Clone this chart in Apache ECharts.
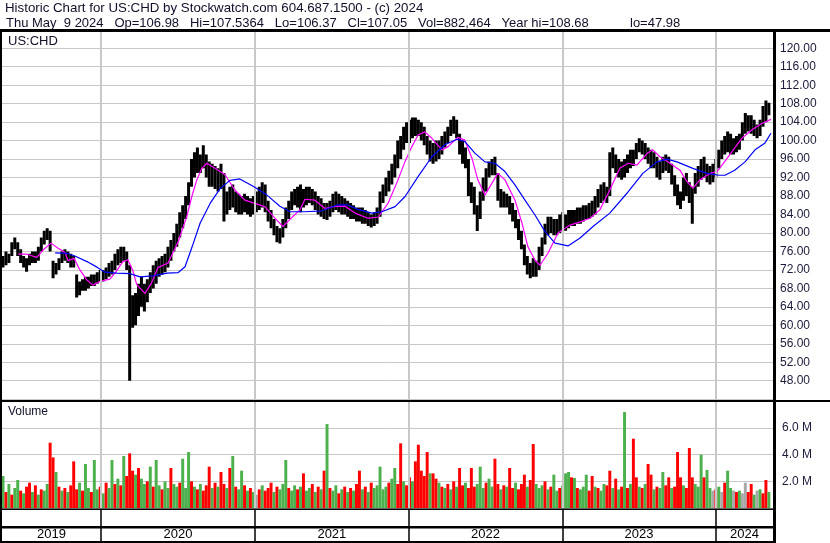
<!DOCTYPE html>
<html><head><meta charset="utf-8">
<script src="https://cdn.jsdelivr.net/npm/echarts@6/dist/echarts.min.js"></script>
<style>html,body{margin:0;padding:0;background:#fff}#c{width:830px;height:543px}</style>
</head><body><div id="c"></div>
<script>
// ---- data (weekly bars) ----
const headerLine1 = 'Historic Chart for US:CHD by Stockwatch.com 604.687.1500 - (c) 2024';
const headerLine2 = 'Thu May  9 2024   Op=106.98   Hi=107.5364   Lo=106.37   Cl=107.05   Vol=882,464   Year hi=108.68';
const headerLine2End = 'lo=47.98';
const symbolLabel = 'US:CHD';
const volumeLabel = 'Volume';
const yearLabels = ['2019','2020','2021','2022','2023','2024'];
const firstWeek = '2019-05-13';

const weekLow = [72.5,73,73.5,75,76.5,75,73.5,72.5,71.6,73,73.5,
73.5,74,76,77.5,78.5,76,70.2,71,72,73.5,
74,73.5,72.5,72.5,66,66.5,67.5,67.5,68,68.5,
68.5,69,69.5,69.5,70,70.5,71,72,73,73.5,
74,72,48,59.5,60,62,64,63,65,67,
68,69,70.5,71,71.5,72.5,74,76,77,79,
81,83,86,90,92,93,93,94,92,90,
90,89.5,89,89.5,82.5,84,85,85.5,84.5,84,
84,84.5,84,83.5,84,84.5,85,85.5,84.5,82.5,
81,79.5,78,77.7,79,81,83,85,86,85.5,
84.5,85.5,86,86.5,86,85,84,83.5,83,82.8,
83.5,84.5,85,84.5,84,84,83.5,83,83,82.5,
82.5,82,82,81.5,81.2,81.5,82,83.5,86.5,88,
89,90.5,92,94,96,98,99.5,99.5,100.5,101,
101,100,99,97,95.5,95,95.5,96,97,98.5,
99.5,101,101.5,100.5,97,95,94,88,86.5,84,
80.4,83,87,89,92,92.5,92.5,87,85.5,85.5,
85.5,84,82.5,81,78.5,76.5,73,71,70.2,70.5,
70.5,72,75,77.5,79.5,80,79.5,79.5,80,80.5,
80.5,81,81.5,81.5,82,82,82.5,83,83,83.5,
84,85.5,86.5,87,86.5,88,94,93,92,91.5,
92,93,94,94.5,96,97.5,97,96,95,94,
94,92,91.5,93,93.5,93,90.5,88,86,85.2,
87,88,86.5,82,88.5,90,91.5,92,91,90.5,
91,92,94,96,97,97.5,97,97,97.5,98,
100,101.5,102,101.5,101,100.5,101,103,104,105.5];

const weekHigh = [75,76,75.5,78,79,78,76.5,75,74.5,75.5,76,
76,77,79,80.5,81,80.5,74,73.5,74.5,76,
76.5,76,75.5,75,71,69.5,70,70.5,70.5,71,
71,71.5,72,72,72.5,73.5,74,75.5,76.5,77,
77,76,73,66.5,67,69,70.5,69,70,71.5,
73,74,74.5,75,75.5,77,78.5,80,82,84.5,
86,88,91,96,97.5,98.5,97,99,97,95.5,
95,94.5,94,95,93,89,90,90.5,89,88.5,
88,88.5,88,87.5,88,89,90,91,90.5,87,
85,83,81.5,81,83,85.5,87,89,89.5,90,
90.5,89.5,90,90,89.5,89,88,87.5,86.5,86.5,
87,88.5,89,88.5,88,87.5,87,86.5,86,85.5,
85.5,85.5,85,84.5,84,84.5,85.5,89,90.5,92,
93.5,95,97,100,101,103,104,104.5,105,105,
104.5,104,103,101,100,99.5,100,100,101,102,
103,104.5,105.3,104.5,101.5,100,98.5,96,91,90,
86,89,92,94,95.5,96,96.5,93,89.5,89,
88.5,88,86.5,85,83,80.5,77.5,75,73.5,74.5,
74,77,79,82,83.5,83.5,83,83,84,84.5,
84,85,85,85,85.5,85.5,86,86,86.5,87,
88,89.5,90.5,91,90,97.5,98.5,97,96,95.5,
96,97,98,98,99.5,100.5,100,99.5,98.5,98,
97.5,96.5,95.5,96.5,97,96.5,95,92.5,90.5,89,
92,93,91,90,93,94.5,96,96.5,95,94.5,
95,96,98,100,101,102,101.5,100.5,101,101.5,
104,106,105.5,105.5,104.5,103.5,104.5,107.5,108.7,108.2];

// volume in millions, one bar per week; g = up (green), r = down (red), n = unchanged (grey)
const weekVolume = [2.4,1.2,1.8,1.0,1.5,2.1,1.3,1.1,1.6,1.9,
1.2,1.7,1.0,1.4,1.3,1.8,4.9,3.8,2.7,1.6,
1.3,1.5,1.2,1.7,3.5,1.4,1.9,1.3,3.3,1.5,
1.2,3.6,1.4,1.6,1.1,1.9,1.5,3.6,1.8,2.2,
1.7,3.9,2.4,4.1,2.8,2.5,3.0,2.2,1.8,2.0,
3.1,1.6,3.6,1.7,1.4,2.0,1.5,3.0,1.8,1.6,
1.9,3.7,1.5,4.2,2.0,1.6,1.4,1.8,1.3,1.7,
3.1,1.5,1.9,1.6,2.7,1.8,1.5,3.0,3.9,1.6,
1.4,2.8,1.7,1.3,1.5,1.2,1.0,1.4,1.7,1.3,
1.5,1.9,1.2,1.6,1.4,1.8,3.6,1.5,1.3,1.7,
1.4,1.6,2.6,1.3,1.5,1.8,1.2,1.6,1.4,2.8,
6.3,1.5,1.3,1.7,1.1,1.4,1.6,1.2,1.5,1.3,
1.8,2.8,1.4,1.6,1.2,1.9,1.5,1.7,3.1,1.4,
1.6,1.9,2.2,3.0,1.8,4.85,2.0,1.7,2.3,2.0,
3.5,4.75,2.8,2.4,4.2,2.6,2.6,2.2,1.9,1.6,
1.5,1.8,1.4,2.0,1.6,3.0,1.7,1.9,1.5,3.0,
1.6,1.8,3.1,1.5,1.9,2.2,1.6,3.7,1.8,1.4,
1.7,1.6,3.0,1.5,1.9,1.4,1.8,2.5,1.6,2.1,
4.8,1.8,1.5,1.7,2.0,1.4,1.6,2.5,1.3,1.5,
1.7,2.6,2.7,2.3,2.25,1.5,1.4,1.6,2.5,1.3,
2.4,1.6,1.5,1.3,1.8,1.7,2.8,1.5,2.2,1.4,
1.6,7.2,1.5,1.8,5.2,2.3,1.6,1.5,1.8,3.3,
2.5,1.4,1.6,1.5,2.7,1.7,2.3,1.5,1.6,4.2,
2.3,1.7,1.5,4.5,2.3,1.8,1.6,4.0,2.3,2.85,
1.5,1.3,1.4,1.6,1.2,1.9,2.8,1.5,1.3,1.2,
1.3,1.1,1.9,1.2,1.8,1.0,1.3,1.4,1.1,2.1,1.2];
const volumeDirection = 'grgrggrgrr' + 'grgrggrrgr' + 'grgrrrgrgg' + 'rggrgrggrg' + 'rgrrrgrggr' +
  'grggrggrgg' + 'rgggrgrgrr' + 'rgrgrrgrgr' + 'ggrgrgnrgr' + 'rrgrgggrgg' +
  'rgrggrgrgr' + 'grggrgrgrg' + 'rrgrgrgggg' + 'grggrrgrrg' + 'rrrrrgrrgr' +
  'grgrgrrgrr' + 'rgggrggrrg' + 'rgrrgrrrgr' + 'rgggrgrggr' + 'gggrgrgggr' +
  'rgrggrrgrg' + 'rgrgrrgrgr' + 'rgrggrrgrr' + 'rgrrrgggrg' + 'gnrgnrggnr' + 'gnnrrgngrrg';

// moving averages: [week since first bar, price]
const fastAverage = [[5.1,75.4],[8.1,75.4],[11.5,74.7],[13.6,76.3],[16.3,77.8],[18.7,76.7],[21.0,75.8],[22.1,74.0],[24.1,74.5],[26.1,72.0],[28.5,69.8],[30.5,68.7],[32.9,69.5],[36.3,70.0],[38.0,71.3],[40.7,73.8],[42.4,74.2],[44.1,71.8],[45.4,68.8],[48.2,66.9],[50.5,69.3],[52.6,72.5],[56.0,73.5],[59.4,78.0],[62.4,83.6],[64.1,87.9],[65.8,91.5],[67.5,94.0],[69.2,95.1],[72.0,94.0],[75.4,92.6],[78.7,89.3],[82.1,87.1],[85.5,86.4],[88.9,85.7],[92.3,83.2],[95.0,81.4],[98.3,83.5],[100.8,85.0],[102.5,87.3],[105.9,87.1],[109.3,85.3],[112.0,85.7],[116.1,85.8],[119.5,84.3],[123.9,83.2],[127.3,83.4],[130.7,86.4],[134.1,91.5],[136.5,95.5],[138.8,98.7],[140.9,101.2],[143.2,101.9],[145.6,100.5],[149.0,98.0],[151.1,98.7],[154.4,100.7],[156.8,100.1],[159.2,96.2],[161.2,91.5],[163.6,88.2],[166.0,90.8],[168.0,92.9],[170.4,91.5],[173.8,87.1],[176.2,82.1],[178.2,77.0],[180.6,74.1],[182.3,73.0],[185.0,75.6],[188.4,80.0],[190.8,81.0],[192.5,81.7],[195.9,82.4],[199.3,83.2],[202.6,85.0],[206.0,89.3],[209.4,94.0],[212.2,95.1],[215.2,94.7],[218.6,97.2],[220.6,98.0],[223.0,96.5],[226.4,95.1],[229.8,93.6],[232.2,91.1],[234.2,89.7],[236.6,91.5],[240.0,92.9],[242.4,93.3],[244.1,94.7],[247.5,97.6],[250.8,100.5],[254.2,102.3],[257.6,103.7],[260.7,104.6]];
const slowAverage = [[17.7,75.7],[21.7,75.6],[24.4,75.0],[28.5,73.8],[31.9,72.6],[34.6,71.5],[38.7,71.3],[43.1,71.2],[46.5,70.5],[50.9,70.7],[55.7,71.3],[59.4,71.4],[61.8,72.7],[64.2,77.0],[66.9,82.1],[70.3,86.4],[73.7,89.6],[77.1,91.4],[80.4,91.7],[84.9,90.1],[89.6,88.2],[94.0,85.8],[97.4,84.6],[102.5,84.6],[108.3,84.8],[113.7,86.1],[116.8,86.1],[120.5,85.1],[125.3,84.3],[128.6,84.6],[133.1,85.7],[136.5,87.9],[140.9,92.2],[145.6,96.5],[150.0,99.1],[154.1,100.3],[156.8,99.8],[160.2,97.3],[163.6,95.4],[167.0,95.1],[170.4,93.3],[173.8,90.4],[177.2,87.1],[180.6,83.9],[184.0,80.3],[187.4,77.8],[191.8,77.2],[195.9,78.9],[200.3,81.4],[206.0,84.3],[211.8,88.6],[217.2,92.9],[222.0,95.4],[225.4,96.0],[228.8,95.4],[234.2,94.0],[239.0,92.9],[243.1,92.5],[245.1,92.5],[248.4,93.6],[251.9,95.4],[255.3,98.0],[258.7,99.5],[260.7,101.6]];

// ---- layout helpers ----
const WEEK_MS = 7 * 864e5;
const startMs = Date.parse(firstWeek + 'T00:00:00Z');
const X_MIN = -0.34, X_MAX = 261.4;
const yearStarts = [2020, 2021, 2022, 2023, 2024].map(y => (Date.UTC(y, 0, 1) - startMs) / WEEK_MS);
const edges = [X_MIN].concat(yearStarts, [X_MAX]);
const yearMids = yearLabels.map((t, k) => [(edges[k] + edges[k + 1]) / 2, 0.4, t]);

const FONT = '"Liberation Sans", Arial, sans-serif';
const TXT = '#10102a';
const GREEN = '#4cb04c', RED = '#ff0000', GREY = '#a8a8a8';
const dirColor = { g: GREEN, r: RED, n: GREY };

const chart = echarts.init(document.getElementById('c'), null, { renderer: 'canvas' });

function xAx(gi) {
  return { type: 'value', gridIndex: gi, min: X_MIN, max: X_MAX, show: false };
}
function yearLines(xi, yi, color, width, z) {
  return {
    type: 'line', xAxisIndex: xi, yAxisIndex: yi, data: [], z: z, silent: true,
    markLine: { symbol: 'none', silent: true, animation: false, label: { show: false },
      lineStyle: { color: color, width: width, type: 'solid' },
      data: yearStarts.map(w => ({ xAxis: w })) }
  };
}

const graphics = [
  { type: 'text', left: 5, top: 2, z: 10, style: { text: headerLine1, fill: TXT, font: '13.3px ' + FONT } },
  { type: 'text', left: 6, top: 17, z: 10, style: { text: headerLine2, fill: TXT, font: '13px ' + FONT } },
  { type: 'text', left: 630, top: 17, z: 10, style: { text: headerLine2End, fill: TXT, font: '13px ' + FONT } },
  { type: 'text', left: 8, top: 35, z: 10, style: { text: symbolLabel, fill: TXT, font: '13px ' + FONT } },
  { type: 'text', left: 8, top: 406, z: 10, style: { text: volumeLabel, fill: TXT, font: '12px ' + FONT } },
  { type: 'rect', z: 20, shape: { x: 0, y: 29, width: 830, height: 3 }, style: { fill: '#000' } },
  { type: 'rect', z: 20, shape: { x: 0, y: 400, width: 830, height: 2 }, style: { fill: '#000' } },
  { type: 'rect', z: 20, shape: { x: 0, y: 29, width: 2, height: 514 }, style: { fill: '#000' } },
  { type: 'rect', z: 20, shape: { x: 773, y: 29, width: 3, height: 514 }, style: { fill: '#000' } },
  { type: 'rect', z: 20, shape: { x: 0, y: 508.5, width: 776, height: 1.5 }, style: { fill: '#000' } },
  { type: 'rect', z: 20, shape: { x: 0, y: 526, width: 776, height: 2.5 }, style: { fill: '#000' } },
  { type: 'rect', z: 20, shape: { x: 0, y: 541, width: 776, height: 2 }, style: { fill: '#000' } }
];

const option = {
  animation: false,
  backgroundColor: '#fff',
  grid: [
    { left: 2, width: 771, top: 29.8, height: 369.4 },
    { left: 2, width: 771, top: 401.4, height: 106.6 },
    { left: 2, width: 771, top: 509, height: 32 }
  ],
  xAxis: [xAx(0), xAx(1), xAx(2)],
  yAxis: [
    { type: 'value', gridIndex: 0, position: 'right', min: 44, max: 124, interval: 4,
      axisLine: { show: false }, axisTick: { show: false },
      splitLine: { show: true, lineStyle: { color: '#c8c8c8', width: 1 } },
      axisLabel: { margin: 7, color: '#1a1a3a', fontFamily: FONT, fontSize: 12,
        formatter: v => (v >= 48 && v <= 120) ? v.toFixed(2) : '' } },
    { type: 'value', gridIndex: 1, position: 'right', min: 0, max: 8, interval: 2,
      axisLine: { show: false }, axisTick: { show: false },
      splitLine: { show: true, lineStyle: { color: '#c8c8c8', width: 1 } },
      axisLabel: { margin: 9, color: '#1a1a3a', fontFamily: FONT, fontSize: 12,
        formatter: v => (v > 0 && v < 8) ? v.toFixed(1) + ' M' : '' } },
    { type: 'value', gridIndex: 2, min: 0, max: 2, show: false }
  ],
  series: [
    yearLines(0, 0, '#c8c8c8', 2, 1),
    yearLines(1, 1, '#c8c8c8', 2, 1),
    yearLines(2, 2, '#000000', 1.5, 1),
    {
      type: 'custom', xAxisIndex: 0, yAxisIndex: 0, z: 3, clip: true,
      data: weekLow.map((lo, i) => [i, lo, weekHigh[i]]),
      encode: { x: 0, y: [1, 2] },
      renderItem: function (params, api) {
        const top = api.coord([api.value(0), api.value(2)]);
        const bot = api.coord([api.value(0), api.value(1)]);
        return { type: 'rect', shape: { x: top[0] - 1.5, y: top[1], width: 3, height: Math.max(1, bot[1] - top[1]) },
          style: { fill: '#000' } };
      }
    },
    { type: 'line', xAxisIndex: 0, yAxisIndex: 0, z: 4, data: fastAverage, symbol: 'none', showSymbol: false,
      lineStyle: { color: '#ff00ff', width: 1.2 }, silent: true },
    { type: 'line', xAxisIndex: 0, yAxisIndex: 0, z: 5, data: slowAverage, symbol: 'none', showSymbol: false,
      lineStyle: { color: '#0000ff', width: 1.2 }, silent: true },
    {
      type: 'bar', xAxisIndex: 1, yAxisIndex: 1, z: 3, barWidth: 2.95, silent: true,
      data: weekVolume.map((v, i) => ({ value: [i, v], itemStyle: { color: dirColor[volumeDirection[i]] } }))
    },
    {
      type: 'custom', xAxisIndex: 2, yAxisIndex: 2, z: 4, data: yearMids, silent: true,
      renderItem: function (params, api) {
        const p = api.coord([api.value(0), api.value(1)]);
        return { type: 'text', x: p[0], y: p[1],
          style: { text: yearMids[params.dataIndex][2], fill: '#000', font: '13px ' + FONT, align: 'center', verticalAlign: 'middle' } };
      }
    }
  ],
  graphic: graphics
};
chart.setOption(option);
</script></body></html>
